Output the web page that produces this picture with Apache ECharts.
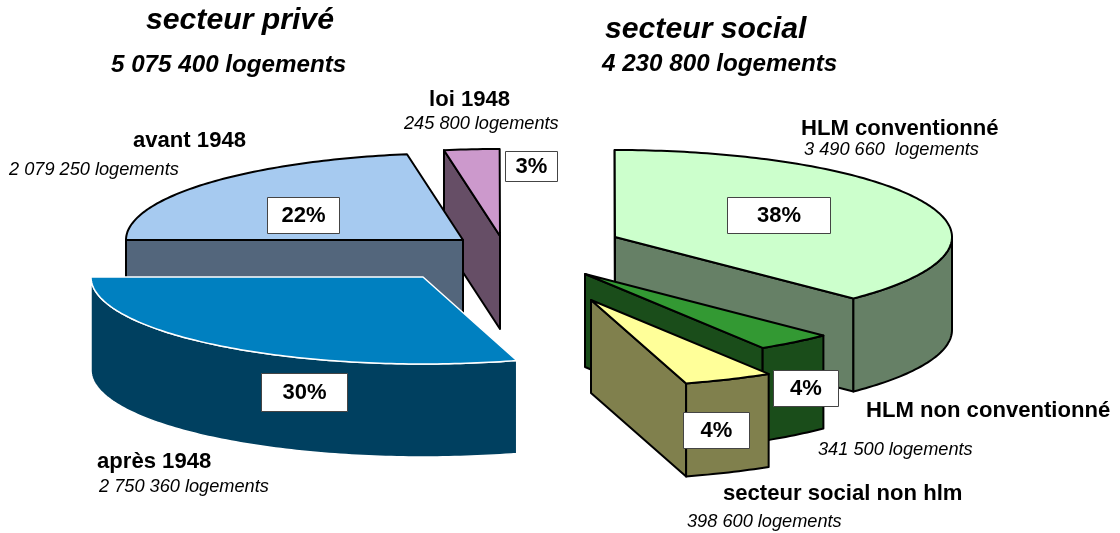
<!DOCTYPE html>
<html>
<head>
<meta charset="utf-8">
<style>html,body{margin:0;background:#fff}#main{width:1120px;height:533px}</style>
<script src="https://cdn.jsdelivr.net/npm/echarts@6/dist/echarts.min.js"></script>
</head>
<body>
<div id="main"></div>
<script>
// slices in pie order, clockwise from the left
var names = ['avant 1948', 'loi 1948', 'HLM conventionné', 'HLM non conventionné', 'secteur social non hlm', 'après 1948'];
var logements = [2079250, 245800, 3490660, 341500, 398600, 2750360];
var countLabels = ['2 079 250 logements', '245 800 logements', '3 490 660  logements', '341 500 logements', '398 600 logements', '2 750 360 logements'];
var percents = ['22%', '3%', '38%', '4%', '4%', '30%'];

// layout: where each exploded slice sits, and its colours
var apex = [[463, 240], [500, 236], [615, 237], [585, 274], [591, 300], [423, 277]];
var radiusX = [337, 337, 337, 337, 337, 332];
var topColors = ['#A6CAF0', '#CC99CC', '#CCFFCC', '#339933', '#FFFF99', '#0080C0'];
var sideColors = ['#53667C', '#664E66', '#668066', '#1A4D1A', '#80804D', '#004060'];
var edgeColors = ['#000', '#000', '#000', '#000', '#000', '#fff'];
var sliceZ = [20, 10, 10, 20, 30, 40];
var nameAt = [[133, 141], [429, 100], [801, 129], [866, 411], [723, 494], [97, 462]];
var countAt = [[9, 170], [404, 124], [804, 150], [818, 450], [687, 522], [99, 487]];
var boxes = [[267, 197, 72, 36], [505, 151, 52, 30], [727, 197, 103, 36], [773, 370, 65, 36], [683, 412, 66, 36], [261, 373, 86, 38]];

var ry = 87, depth = 93, startAngle = 180;
var total = logements.reduce(function(a, b){ return a + b; }, 0);

// angle of the slice edges, from the values
function sliceAngles(index, api){
	var before = 0;
	for(var i = 0; i < index; i++){
		before += logements[i];
	}
	var from = startAngle - echarts.number.linearMap(before, [0, total], [0, 360]);
	return [from, from - echarts.number.linearMap(api.value(0), [0, total], [0, 360])];
}

function rim(c, rx, deg, drop){
	var r = deg * Math.PI / 180;
	return [c[0] + rx * Math.cos(r), c[1] - ry * Math.sin(r) + drop];
}

function arcPoints(c, rx, from, to, drop){
	var pts = [];
	var n = Math.max(2, Math.ceil(Math.abs(from - to)));
	for(var i = 0; i <= n; i++){
		pts.push(rim(c, rx, from + (to - from) * i / n, drop));
	}
	return pts;
}

function poly(points, fill, edge, z, lineWidth){
	return {
		type: 'polygon',
		z2: z,
		shape: {points: points},
		style: {fill: fill, stroke: edge, lineWidth: lineWidth, lineJoin: 'round'}
	};
}

function textItem(text, pos, font, z){
	return {
		type: 'text',
		z2: z,
		x: pos[0],
		y: pos[1],
		style: {text: text, font: font, fill: '#000', align: 'left', verticalAlign: 'middle'}
	};
}

function radialFace(c, rx, deg, side, edge, z, lw){
	var p = rim(c, rx, deg, 0);
	return poly([c, p, [p[0], p[1] + depth], [c[0], c[1] + depth]], side, edge, z, lw);
}

function renderSlice(params, api){
	var i = params.dataIndex;
	var c = apex[i];
	var rx = radiusX[i];
	var ang = sliceAngles(i, api);
	var a = ang[0], b = ang[1];
	var z = sliceZ[i];
	var lw = i == 5 ? 1.5 : 2;
	var kids = [];

	// side faces: only those turned to the viewer
	if(Math.sin((a + 90) * Math.PI / 180) < -0.001){
		kids.push(radialFace(c, rx, a, sideColors[i], edgeColors[i], z, lw));
	}
	if(Math.sin((b - 90) * Math.PI / 180) < -0.001){
		kids.push(radialFace(c, rx, b, sideColors[i], edgeColors[i], z, lw));
	}
	// outer wall, front half of the rim only
	var wallFrom = Math.min(a, 0), wallTo = Math.max(b, -180);
	if(wallFrom > wallTo){
		var upper = arcPoints(c, rx, wallFrom, wallTo, 0);
		var lower = arcPoints(c, rx, wallTo, wallFrom, depth);
		kids.push(poly(upper.concat(lower), sideColors[i], edgeColors[i], z + 1, lw));
	}
	// top of the slice
	kids.push(poly([c].concat(arcPoints(c, rx, a, b, 0)), topColors[i], edgeColors[i], z + 2, lw));

	// texts
	var box = boxes[i];
	kids.push({
		type: 'rect',
		z2: 100,
		shape: {x: box[0] + 0.5, y: box[1] + 0.5, width: box[2], height: box[3]},
		style: {fill: '#fff', stroke: '#444', lineWidth: 1}
	});
	kids.push({
		type: 'text',
		z2: 101,
		x: box[0] + box[2] / 2 + 0.5,
		y: box[1] + box[3] / 2 + 1,
		style: {text: percents[i], font: 'bold 22px "Liberation Sans"', fill: '#000', align: 'center', verticalAlign: 'middle'}
	});
	kids.push(textItem(names[i], nameAt[i], 'bold 22.1px "Liberation Sans"', 101));
	kids.push(textItem(countLabels[i], countAt[i], 'italic 18.2px "Liberation Sans"', 101));
	return {type: 'group', children: kids};
}

function heading(text, x, y, size){
	return {
		type: 'text',
		x: x,
		y: y,
		style: {text: text, font: 'italic bold ' + size + 'px "Liberation Sans"', fill: '#000', align: 'left', verticalAlign: 'middle'}
	};
}

var option = {
	backgroundColor: '#fff',
	animation: false,
	graphic: [
		heading('secteur privé', 146, 21, 30.2),
		heading('5 075 400 logements', 111, 65, 24.2),
		heading('secteur social', 605, 30, 30.2),
		heading('4 230 800 logements', 602, 64, 24.2)
	],
	series: [{
		type: 'custom',
		coordinateSystem: 'none',
		silent: true,
		renderItem: renderSlice,
		data: logements
	}]
};

var myChart = echarts.init(document.getElementById('main'));
myChart.setOption(option);
</script>
</body>
</html>
